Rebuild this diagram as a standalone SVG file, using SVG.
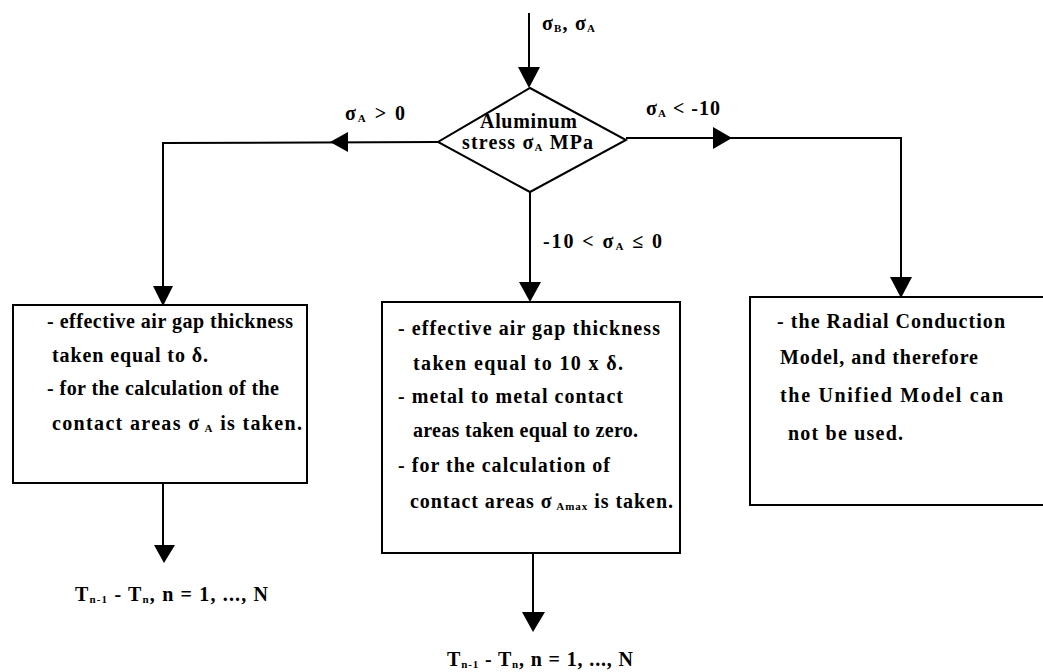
<svg xmlns="http://www.w3.org/2000/svg" width="1043" height="672" viewBox="0 0 1043 672">
<style>
text{font-family:"Liberation Serif","Times New Roman",serif;font-weight:bold;font-size:20px;fill:#000}
.sub{font-size:11px}
.box{fill:#fff;stroke:#000;stroke-width:2}
.ln{fill:none;stroke:#000;stroke-width:2}
.ah{fill:#000;stroke:none}
</style>
<rect width="1043" height="672" fill="#fff"/>
<g id="connectors">
  <line class="ln" x1="529" y1="13" x2="529" y2="72"/>
  <polygon class="ah" points="518,67 540,67 529,88"/>
  <polyline class="ln" points="438,142 163,143 163,290"/>
  <polygon class="ah" points="348,132 348,152 330,142"/>
  <polygon class="ah" points="153,286 173,286 163,306"/>
  <polyline class="ln" points="626,138 901,138 901,280"/>
  <polygon class="ah" points="713,127 713,149 732,138"/>
  <polygon class="ah" points="890,277 912,277 901,298"/>
  <line class="ln" x1="530" y1="192" x2="530" y2="286"/>
  <polygon class="ah" points="519,282 541,282 530,302"/>
  <line class="ln" x1="163" y1="483" x2="163" y2="550"/>
  <polygon class="ah" points="154,545 175,545 164,563"/>
  <line class="ln" x1="533" y1="553" x2="533" y2="616"/>
  <polygon class="ah" points="522,612 545,612 533,632"/>
  <text x="542" y="30" textLength="53">σ<tspan class="sub" dy="2">B</tspan><tspan dy="-2">, σ</tspan><tspan class="sub" dy="2">A</tspan></text>
  <text x="345" y="120" textLength="60">σ<tspan class="sub" dy="2">A</tspan><tspan dy="-2"> &gt; 0</tspan></text>
  <text x="646" y="115" textLength="74">σ<tspan class="sub" dy="2">A</tspan><tspan dy="-2"> &lt; -10</tspan></text>
  <text x="543" y="248" textLength="119">-10 &lt; σ<tspan class="sub" dy="2">A</tspan><tspan dy="-2"> ≤ 0</tspan></text>
</g>
<g id="decision">
  <polygon class="box" points="530,88 626,140 530,192 438,142"/>
  <text x="480" y="128" textLength="97">Aluminum</text>
  <text x="462" y="149" textLength="131">stress σ<tspan class="sub" dy="2">A</tspan><tspan dy="-2"> MPa</tspan></text>
</g>
<g id="box-left">
  <rect class="box" x="13" y="305" width="294" height="178"/>
  <text x="47" y="328" textLength="246">- effective air gap thickness</text>
  <text x="52" y="362" textLength="156">taken equal to δ.</text>
  <text x="47" y="395" textLength="232">- for the calculation of the</text>
  <text x="52" y="430" textLength="250">contact areas σ<tspan class="sub" dy="2"> A</tspan><tspan dy="-2"> is taken.</tspan></text>
</g>
<g id="box-middle">
  <rect class="box" x="382" y="302" width="298" height="251"/>
  <text x="398" y="335" textLength="262">- effective air gap thickness</text>
  <text x="413" y="370" textLength="210">taken equal to 10 x δ.</text>
  <text x="398" y="403" textLength="225">- metal to metal contact</text>
  <text x="413" y="437" textLength="225">areas taken equal to zero.</text>
  <text x="398" y="472" textLength="212">- for the calculation of</text>
  <text x="410" y="508" textLength="263">contact areas σ<tspan class="sub" dy="2"> Amax</tspan><tspan dy="-2"> is taken.</tspan></text>
</g>
<g id="box-right">
  <rect class="box" x="750" y="297" width="300" height="208"/>
  <text x="777" y="328" textLength="228">- the Radial Conduction</text>
  <text x="780" y="364" textLength="198">Model, and therefore</text>
  <text x="780" y="402" textLength="223">the Unified Model can</text>
  <text x="788" y="440" textLength="115">not be used.</text>
</g>
<g id="out-left">
  <text x="75" y="601" textLength="193">T<tspan class="sub" dy="2">n-1</tspan><tspan dy="-2"> - T</tspan><tspan class="sub" dy="2">n</tspan><tspan dy="-2">, n = 1, ..., N</tspan></text>
</g>
<g id="out-middle">
  <text x="447" y="666" textLength="186">T<tspan class="sub" dy="2">n-1</tspan><tspan dy="-2"> - T</tspan><tspan class="sub" dy="2">n</tspan><tspan dy="-2">, n = 1, ..., N</tspan></text>
</g>
</svg>
